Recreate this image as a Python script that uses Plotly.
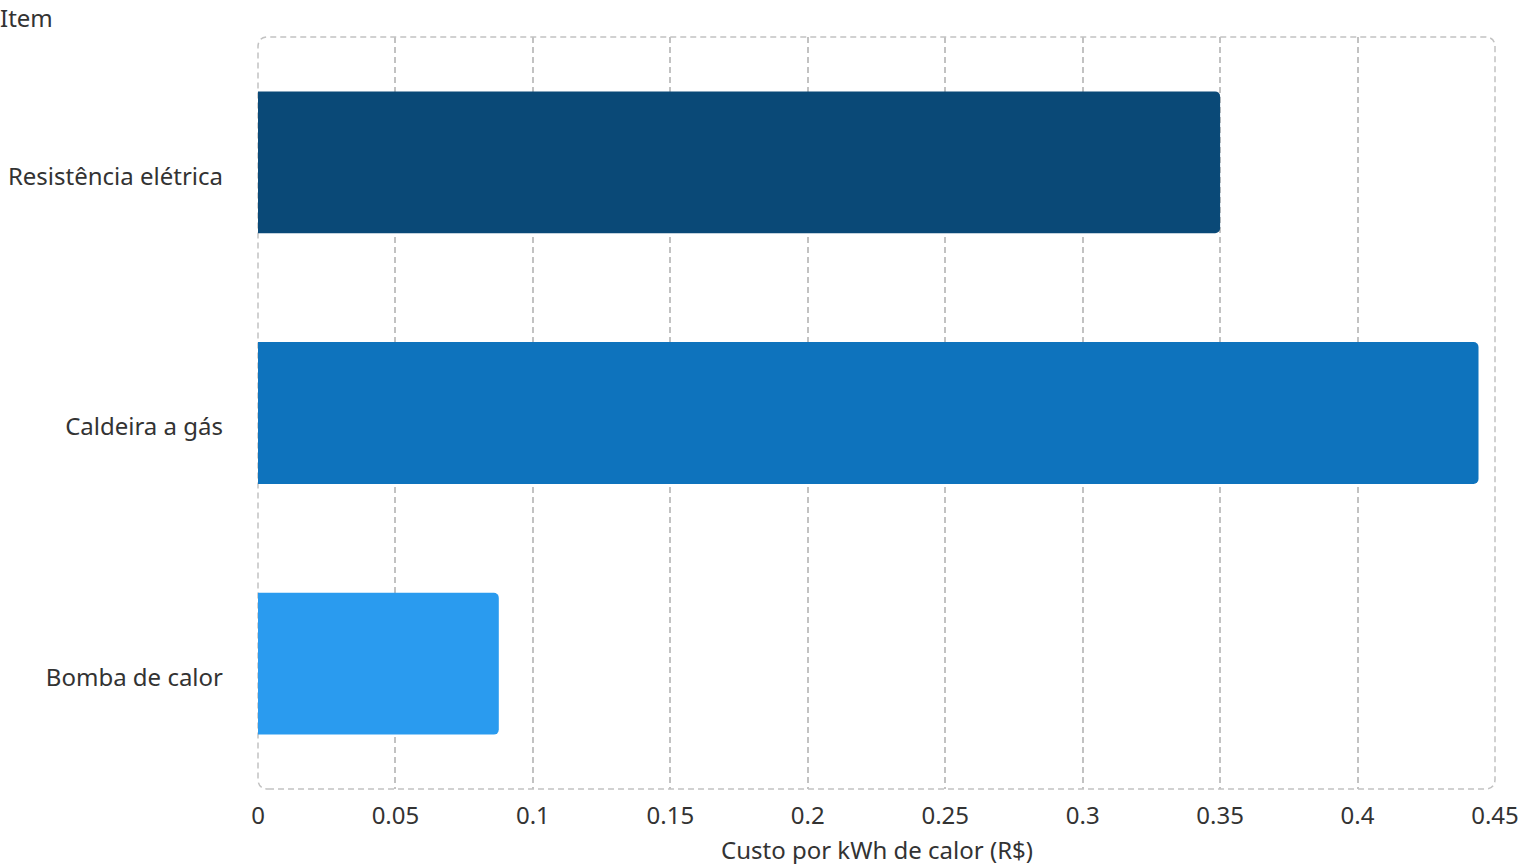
import plotly.graph_objects as go

items = ["Resistência elétrica", "Caldeira a gás", "Bomba de calor"]
costs = [0.35, 0.444, 0.0876]
colors = ["#0a4977", "#0e73bd", "#2a9bef"]
x_ticks = [0, 0.05, 0.1, 0.15, 0.2, 0.25, 0.3, 0.35, 0.4, 0.45]
x_labels = ["0", "0.05", "0.1", "0.15", "0.2", "0.25", "0.3", "0.35", "0.4", "0.45"]

W, H = 1520, 864
ml, mr, mt, mb = 258, 25, 37, 75
pw, ph = W - ml - mr, H - mt - mb
txt = "#333333"
grid = "#c2c2c2"
dash = "6px,4px"

fig = go.Figure()
fig.add_trace(go.Bar(
    y=items, x=costs, orientation="h",
    marker=dict(color=colors, cornerradius=5, line=dict(width=0)),
    showlegend=False,
))

# rounded dashed frame round the plot area (paper coords)
rx, ry = 10 / pw, 10 / ph
path = (f"M {rx},0 L {1-rx},0 Q 1,0 1,{ry} L 1,{1-ry} Q 1,1 {1-rx},1 "
        f"L {rx},1 Q 0,1 0,{1-ry} L 0,{ry} Q 0,0 {rx},0 Z")
fig.add_shape(type="path", path=path, xref="paper", yref="paper",
              line=dict(color=grid, width=1.5, dash=dash), layer="below")

# axis titles as annotations
fig.add_annotation(text="Item", xref="paper", yref="paper",
                   x=-(ml + 2) / pw, y=1 + (mt - 18) / ph,
                   showarrow=False, xanchor="left", yanchor="middle",
                   font=dict(size=24, color=txt))
fig.add_annotation(text="Custo por kWh de calor (R$)", xref="paper", yref="paper",
                   x=0.5, y=-60 / ph,
                   showarrow=False, xanchor="center", yanchor="middle",
                   font=dict(size=24, color=txt))

fig.update_layout(
    width=W, height=H,
    margin=dict(l=ml, r=mr, t=mt, b=mb, autoexpand=False),
    paper_bgcolor="white", plot_bgcolor="white",
    font=dict(family="Noto Sans", size=24, color=txt),
    bargap=0.434,
)
fig.update_xaxes(
    range=[0, 0.45], tickvals=x_ticks, ticktext=x_labels,
    showgrid=True, gridcolor=grid, griddash=dash, gridwidth=1.5,
    zeroline=False, showline=False, ticks="", automargin=False,
    tickfont=dict(size=24, color=txt), ticklabelstandoff=10,
)
fig.update_yaxes(
    categoryorder="array", categoryarray=items[::-1],
    showgrid=False, zeroline=False, showline=False, ticks="", automargin=False,
    tickfont=dict(size=24, color=txt),
    ticklabelshift=14, ticklabelstandoff=34,
)

# drop the default body margin so the figure sits at the page corner
fig.write_html("out.html", config={"displayModeBar": False},
               post_script="document.body.style.margin='0';")
